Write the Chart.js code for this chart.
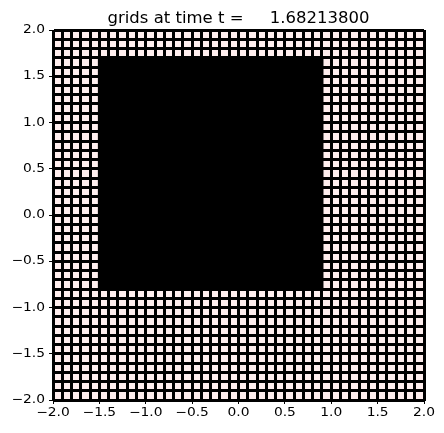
<!DOCTYPE html>
<html>
<head>
<meta charset="utf-8">
<script src="https://cdn.jsdelivr.net/npm/chart.js@4/dist/chart.umd.min.js"></script>
<style>
    body { margin: 0; background: #fff; }
    #wrap { width: 444px; height: 433px; }
</style>
</head>
<body>
<div id="wrap"><canvas id="gridChart" width="444" height="433"></canvas></div>
<script>
// axis limits and the coarse mesh spacing
const xLimits = [-2, 2],
    yLimits = [-2, 2],
    coarseStep = 0.1;

// refined patch (drawn solid, the fine lines fill it in)
const refinedX = [-1.5, 0.9],
    refinedY = [-0.8, 1.7];

// labelled ticks
const tickLabels = [-2.0, -1.5, -1.0, -0.5, 0.0, 0.5, 1.0, 1.5, 2.0];

const titleText = 'grids at time t =     1.68213800';

const ctx = document.getElementById('gridChart').getContext('2d');

// true when a tick value is one of the labelled ones
isLabelled = (v) => tickLabels.some(t => Math.abs(t - v) < 1e-6);

fmt = (v) => {
    const s = (Math.abs(v) < 1e-9 ? 0 : v).toFixed(1);
    return s.replace('-', '\u2212');
}

// text drawn a little wider than the font gives, like the reference
function wideText(c, text, x, y, align, stretch) {
    c.save();
    c.translate(x, y);
    c.scale(stretch, 1);
    c.textAlign = align;
    c.fillText(text, 0, 0);
    c.restore();
}

// background of the axes box, the title and the tick labels
const axesDecor = {
    id: 'axesDecor',
    beforeDraw(chart) {
        const { ctx, chartArea: a } = chart;
        ctx.save();
        ctx.fillStyle = '#ffeeee';
        ctx.fillRect(a.left, a.top, a.right - a.left, a.bottom - a.top);
        ctx.restore();
    },
    afterDraw(chart) {
        const { ctx, chartArea: a, scales } = chart;
        ctx.save();
        ctx.fillStyle = '#000';

        // title
        ctx.font = '15px "DejaVu Sans"';
        ctx.textBaseline = 'alphabetic';
        wideText(ctx, titleText, (a.left + a.right) / 2, a.top - 7, 'center', 1.1);

        // tick labels, placed by the scales
        ctx.font = '12px "DejaVu Sans"';
        ctx.textBaseline = 'middle';
        tickLabels.forEach(v => {
            wideText(ctx, fmt(v), scales.x.getPixelForValue(v), a.bottom + 12.5, 'center', 1.15);
            wideText(ctx, fmt(v), a.left - 8, scales.y.getPixelForValue(v), 'right', 1.15);
        });
        ctx.restore();
    }
};

// rectangle outline of the refined patch
const patch = [
    { x: refinedX[0], y: refinedY[0] },
    { x: refinedX[0], y: refinedY[1] },
    { x: refinedX[1], y: refinedY[1] },
    { x: refinedX[1], y: refinedY[0] },
    { x: refinedX[0], y: refinedY[0] }
];

function axisOptions(limits, isX) {
    return {
        type: 'linear',
        min: limits[0],
        max: limits[1],
        afterFit: (scale) => {
            if (isX) scale.height = 33;
            else scale.width = 53;
        },
        border: { display: true, color: '#000', width: 1 },
        grid: {
            color: '#000',
            lineWidth: 3,
            drawTicks: true,
            tickLength: 4,
            tickWidth: 1,
            tickColor: (c) => (c.tick && isLabelled(c.tick.value)) ? '#000' : 'rgba(0,0,0,0)'
        },
        ticks: {
            stepSize: coarseStep,
            autoSkip: false,
            maxTicksLimit: 1000,
            maxRotation: 0,
            color: 'rgba(0,0,0,0)',
            padding: 3,
            font: { family: '"DejaVu Sans"', size: 12 },
            callback: (v) => isLabelled(v) ? fmt(v) : ''
        }
    };
}

new Chart(ctx, {
    type: 'scatter',
    data: {
        datasets: [{
            data: patch,
            showLine: true,
            fill: 'shape',
            backgroundColor: '#000',
            borderColor: '#000',
            borderWidth: 3,
            pointRadius: 0
        }]
    },
    options: {
        responsive: false,
        animation: false,
        layout: { padding: { left: 0, right: 20, top: 30, bottom: 0 } },
        plugins: {
            legend: { display: false },
            tooltip: { enabled: false }
        },
        scales: {
            x: axisOptions(xLimits, true),
            y: axisOptions(yLimits, false)
        }
    },
    plugins: [axesDecor]
});
</script>
</body>
</html>
